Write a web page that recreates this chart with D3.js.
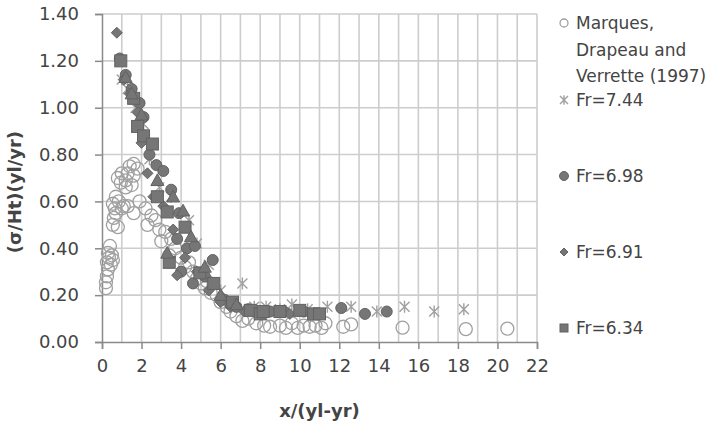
<!DOCTYPE html>
<html>
<head>
<meta charset="utf-8">
<script src="https://cdn.jsdelivr.net/npm/d3@7"></script>
<style>
	body { margin: 0; background: #fff; }
	svg { font-family: 'DejaVu Sans', sans-serif; }
</style>
</head>
<body>
<div id="chart"></div>
<script>
// ********** SCATTER CHART **********

// Data as [x/(yl-yr), (σ/Ht)(yl/yr)]
const marques = [
	[0.2,0.23],[0.2,0.255],[0.25,0.28],[0.3,0.31],[0.25,0.34],[0.35,0.36],[0.3,0.38],[0.4,0.41],[0.45,0.33],[0.5,0.37],[0.55,0.35],
	[0.55,0.5],[0.6,0.53],[0.7,0.55],[0.55,0.59],[0.85,0.6],[0.7,0.62],[1.0,0.57],[0.8,0.49],[1.1,0.58],[0.65,0.57],
	[0.8,0.7],[1.0,0.72],[1.2,0.69],[1.4,0.75],[1.3,0.72],[1.6,0.71],[1.2,0.66],[1.8,0.74],[1.5,0.67],[0.95,0.68],[1.6,0.76],
	[1.3,0.58],[1.6,0.55],[1.9,0.6],[2.2,0.57],[2.5,0.54],[2.3,0.5],[2.7,0.52],[2.9,0.48],[3.2,0.47],[3.0,0.43],[3.5,0.44],
	[3.7,0.4],[3.4,0.37],[4.0,0.36],[4.2,0.32],[4.4,0.34],[4.6,0.3],[4.8,0.27],[5.0,0.25],[5.2,0.23],[5.5,0.21],[5.8,0.2],
	[5.3,0.26],[6.0,0.17],[6.3,0.15],[6.5,0.13],[6.8,0.11],[7.1,0.09],[7.4,0.1],[7.8,0.08],[8.2,0.07],[8.5,0.065],[9.0,0.07],
	[9.3,0.06],[9.6,0.08],[9.9,0.06],[10.2,0.07],[10.5,0.065],[10.8,0.07],[11.1,0.06],[11.3,0.08],[12.2,0.065],[12.6,0.075],
	[15.2,0.061],[18.4,0.055],[20.5,0.057]
];
const fr744 = [
	[1.0,1.12],[1.3,1.08],[1.7,1.0],[2.1,0.93],[2.4,0.78],[2.9,0.66],[3.5,0.62],[4.4,0.52],[4.8,0.42],[5.4,0.33],[6.0,0.22],
	[7.1,0.25],[7.7,0.15],[8.3,0.15],[9.0,0.14],[9.6,0.16],[10.4,0.14],[11.4,0.15],[12.6,0.15],[13.9,0.13],[15.3,0.15],
	[16.8,0.13],[18.3,0.14]
];
const fr698 = [
	[0.9,1.21],[1.2,1.14],[1.5,1.08],[1.9,1.02],[2.1,0.96],[2.4,0.80],[2.75,0.755],[3.1,0.73],[3.5,0.65],[3.9,0.55],[3.8,0.44],
	[4.3,0.40],[4.7,0.41],[4.0,0.30],[4.6,0.25],[5.6,0.35],[5.2,0.28],[6.2,0.18],[6.8,0.15],[7.4,0.14],[8.5,0.13],[9.2,0.13],
	[10.2,0.13],[11.0,0.12],[12.1,0.145],[13.3,0.12],[14.4,0.13]
];
const fr691 = [
	[0.75,1.32],[1.1,1.12],[1.4,1.06],[1.8,0.98],[2.0,0.85],[2.3,0.72],[2.6,0.62],[3.1,0.58],[3.8,0.285],[3.6,0.48],[4.2,0.36],
	[4.8,0.30],[5.4,0.22],[6.0,0.17],[6.5,0.15],[7.2,0.13],[8.0,0.12],[9.5,0.12]
];
const fr634 = [
	[0.95,1.20],[1.6,1.04],[1.8,0.92],[2.1,0.88],[2.55,0.845],[2.8,0.62],[3.3,0.555],[3.4,0.34],[4.2,0.49],[4.95,0.295],
	[5.65,0.25],[6.6,0.17],[7.5,0.135],[8.0,0.12],[8.15,0.13],[9.0,0.13],[10.0,0.135],[10.7,0.12],[11.0,0.12]
];
// triangles in the plot have no legend entry
const extra = [
	[1.2,1.13],[1.5,1.06],[2.0,0.97],[2.8,0.69],[3.3,0.38],[4.1,0.56],[3.6,0.62],[4.5,0.45],[5.2,0.32],[6.0,0.2],[6.8,0.16]
];

const xTicks = [0, 2, 4, 6, 8, 10, 12, 14, 16, 18, 20, 22];
const yTicks = [0, 0.2, 0.4, 0.6, 0.8, 1.0, 1.2, 1.4];
const legendLines = [['Marques,', 'Drapeau and', 'Verrette (1997)'], ['Fr=7.44'], ['Fr=6.98'], ['Fr=6.91'], ['Fr=6.34']];

const width = 714, height = 430;
const margin = { top: 14, left: 102, right: 177, bottom: 88 };
const plotW = width - margin.left - margin.right,
	  plotH = height - margin.top - margin.bottom;

const textColor = '#444',
	  gridColor = '#cdcdcd',
	  axisColor = '#8a8a8a',
	  darkFill = '#767676',
	  darkStroke = '#626262',
	  lightStroke = '#a0a0a0';

const svg = d3.select('#chart')
	.append('svg')
	.attr('width', width)
	.attr('height', height);

const x = d3.scaleLinear().domain([0, 22]).range([margin.left, margin.left + plotW]);
const y = d3.scaleLinear().domain([0, 1.4]).range([margin.top + plotH, margin.top]);

// Gridlines: vertical every unit, horizontal every 0.2
const grid = svg.append('g').attr('class', 'grid');
grid.selectAll('line.v')
	.data(d3.range(1, 23))
	.enter()
	.append('line')
	.attr('class', 'v')
	.attr('x1', d => x(d)).attr('x2', d => x(d))
	.attr('y1', y(0)).attr('y2', y(1.4))
	.attr('stroke', gridColor)
	.attr('stroke-width', 1.6);
grid.selectAll('line.h')
	.data(yTicks.slice(1))
	.enter()
	.append('line')
	.attr('class', 'h')
	.attr('x1', x(0)).attr('x2', x(22))
	.attr('y1', d => y(d)).attr('y2', d => y(d))
	.attr('stroke', gridColor)
	.attr('stroke-width', 1.6);

// Axes
const xAxis = svg.append('g')
	.attr('transform', `translate(0, ${y(0)})`)
	.call(d3.axisBottom(x).tickValues(xTicks).tickSize(7).tickPadding(10).tickFormat(d3.format('d')));
const yAxis = svg.append('g')
	.attr('transform', `translate(${x(0)}, 0)`)
	.call(d3.axisLeft(y).tickValues(yTicks).tickSize(7).tickPadding(16).tickFormat(d3.format('.2f')));

[xAxis, yAxis].forEach(ax => {
	ax.select('.domain').attr('stroke', axisColor).attr('stroke-width', 1.5);
	ax.selectAll('.tick line').attr('stroke', axisColor).attr('stroke-width', 1.5);
	ax.selectAll('.tick text')
		.attr('fill', textColor)
		.style('font-size', '18px')
		.style('font-family', "'DejaVu Sans', sans-serif");
});

// Axis titles
svg.append('text')
	.attr('x', x(11))
	.attr('y', 417)
	.attr('text-anchor', 'middle')
	.attr('fill', textColor)
	.style('font-size', '18px')
	.style('font-weight', 'bold')
	.text('x/(yl-yr)');
svg.append('text')
	.attr('transform', `translate(21, ${y(0.64)}) rotate(-90)`)
	.attr('text-anchor', 'middle')
	.attr('fill', textColor)
	.style('font-size', '18px')
	.style('font-weight', 'bold')
	.text('(σ/Ht)(yl/yr)');

// Marker drawing helpers
const drawMarker = (g, kind, size) => {
	if (kind === 'open') {
		g.append('circle').attr('r', size)
			.attr('fill', 'none').attr('stroke', lightStroke).attr('stroke-width', 1.3);
	} else if (kind === 'star') {
		const s = size;
		g.append('path')
			.attr('d', `M${-s},${-s}L${s},${s}M${-s},${s}L${s},${-s}M0,${-s * 1.2}L0,${s * 1.2}`)
			.attr('stroke', lightStroke).attr('stroke-width', 1.4).attr('fill', 'none');
	} else if (kind === 'dot') {
		g.append('circle').attr('r', size)
			.attr('fill', darkFill).attr('stroke', darkStroke).attr('stroke-width', 1);
	} else if (kind === 'diamond') {
		g.append('path')
			.attr('d', `M0,${-size}L${size},0L0,${size}L${-size},0Z`)
			.attr('fill', darkFill).attr('stroke', darkStroke).attr('stroke-width', 1);
	} else if (kind === 'square') {
		g.append('rect')
			.attr('x', -size).attr('y', -size).attr('width', size * 2).attr('height', size * 2)
			.attr('fill', darkFill).attr('stroke', darkStroke).attr('stroke-width', 1);
	} else if (kind === 'triangle') {
		g.append('path')
			.attr('d', `M0,${-size}L${size},${size * 0.8}L${-size},${size * 0.8}Z`)
			.attr('fill', darkFill).attr('stroke', darkStroke).attr('stroke-width', 1);
	}
};

const series = [
	{ data: marques, kind: 'open', size: 6.5 },
	{ data: fr744, kind: 'star', size: 5 },
	{ data: fr698, kind: 'dot', size: 5.5 },
	{ data: fr691, kind: 'diamond', size: 5.5 },
	{ data: fr634, kind: 'square', size: 6 },
	{ data: extra, kind: 'triangle', size: 6.5 }
];

const marks = svg.append('g').attr('class', 'marks');
series.forEach(s => {
	marks.append('g')
		.selectAll('g.pt')
		.data(s.data)
		.enter()
		.append('g')
		.attr('class', 'pt')
		.attr('transform', d => `translate(${x(d[0])}, ${y(d[1])})`)
		.each(function () { drawMarker(d3.select(this), s.kind, s.size); });
});

// Legend
const legendKinds = [['open', 4], ['star', 4], ['dot', 4.5], ['diamond', 4], ['square', 4]];
const legendY = [23, 100, 176, 252, 328];
const legend = svg.append('g').attr('class', 'legend');
legendLines.forEach((lines, i) => {
	const item = legend.append('g').attr('transform', `translate(564, ${legendY[i]})`);
	drawMarker(item, legendKinds[i][0], legendKinds[i][1]);
	const t = item.append('text')
		.attr('x', 12)
		.attr('y', 6)
		.attr('fill', textColor)
		.style('font-size', '17px');
	lines.forEach((line, j) => {
		t.append('tspan').attr('x', 12).attr('dy', j === 0 ? 0 : 26.5).text(line);
	});
});
</script>
</body>
</html>
